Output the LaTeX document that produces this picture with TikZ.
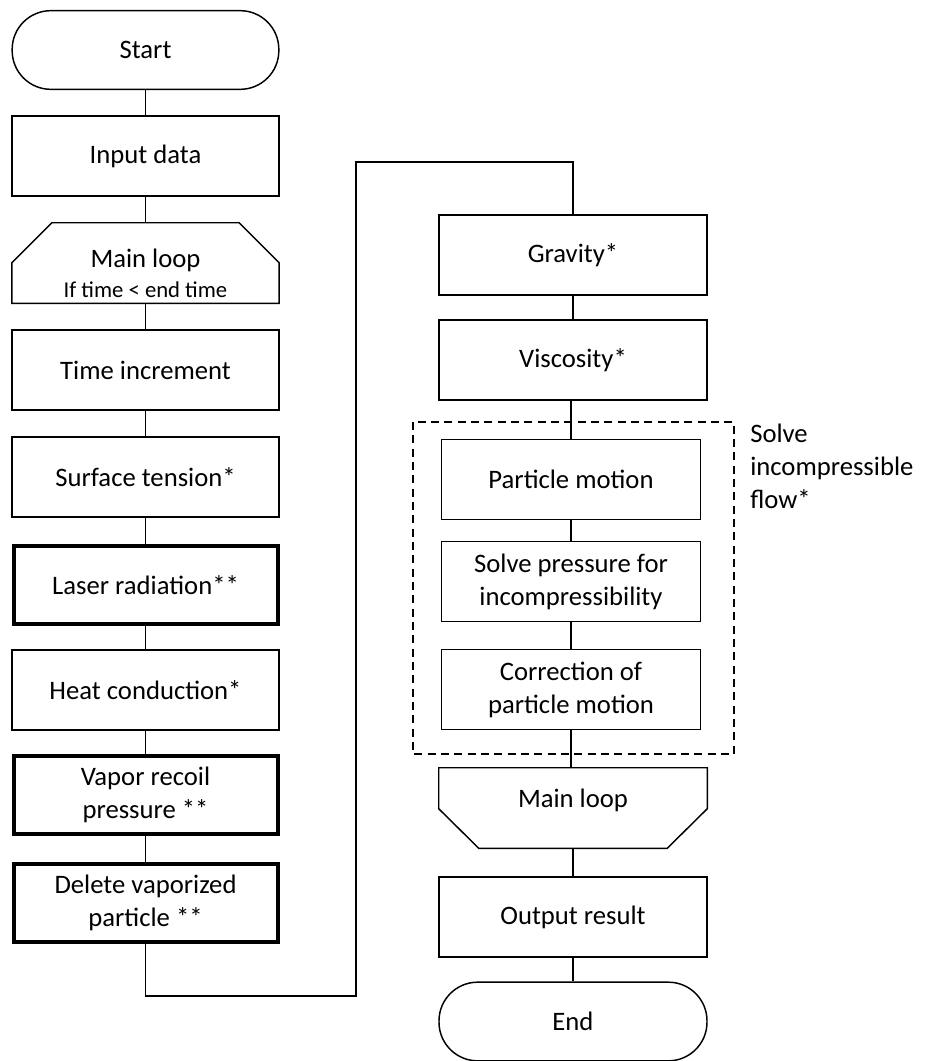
\documentclass[tikz,border=0pt]{standalone}
\usepackage{fontspec}
\setmainfont{Carlito}
\begin{document}
\begin{tikzpicture}[x=0.75pt,y=-0.75pt,
  every node/.style={font=\fontsize{20}{24.75}\selectfont, align=center, inner sep=0pt},
  box/.style={draw, line width=1.1pt, minimum width=200pt, minimum height=60pt},
  boldbox/.style={draw, line width=3pt, minimum width=198pt, minimum height=58pt},
  rbox/.style={draw, line width=1.1pt, minimum width=201pt, minimum height=60pt},
  ibox/.style={draw, line width=1.1pt, minimum width=194pt, minimum height=60pt},
  term/.style={draw, line width=1.1pt, minimum width=200pt, minimum height=59pt, rounded corners=29pt},
  ghost/.style={minimum width=200pt, minimum height=60pt},
  conn/.style={line width=1.1pt}]
\useasboundingbox (0,0) rectangle (941,1061);
% left column
\node[term] (start) at (145.5,50) {Start};
\node[box] (input) at (145.5,156) {Input data};
\node[ghost] (loop1) at (145.5,263) {};
\draw[line width=1.1pt] (loop1.south west) -- ([yshift=-30pt]loop1.north west) -- ([xshift=30pt]loop1.north west) -- ([xshift=-30pt]loop1.north east) -- ([yshift=-30pt]loop1.north east) -- (loop1.south east) -- cycle;
\node (loop1t) at (145.5,273) {Main loop\\[-2pt]{\fontsize{17}{18}\selectfont If time {<} end time}};
\node[box] (time) at (145.5,370) {Time increment};
\node[box] (surf) at (145.5,477) {Surface tension*};
\node[boldbox] (laser) at (145.5,585) {Laser radiation**};
\node[box] (heat) at (145.5,690) {Heat conduction*};
\node[boldbox] (vapor) at (145.5,795) {Vapor recoil\\pressure **};
\node[boldbox] (del) at (145.5,903) {Delete vaporized\\particle **};
% right column
\node[rbox] (grav) at (573,255) {Gravity*};
\node[rbox] (visc) at (573,360) {Viscosity*};
\node[ibox] (pm) at (571,479.5) {Particle motion};
\node[ibox] (sp) at (571,581.5) {Solve pressure for\\incompressibility};
\node[ibox] (cor) at (571,689.5) {Correction of\\particle motion};
\node[ghost, minimum width=201pt] (loop2) at (573,808) {};
\draw[line width=1.1pt] (loop2.north west) -- ([yshift=-30.75pt]loop2.north west) -- ([xshift=30pt]loop2.south west) -- ([xshift=-30pt]loop2.south east) -- ([yshift=-30.75pt]loop2.north east) -- (loop2.north east) -- cycle;
\node (loop2t) at (573,800) {Main loop};
\node[rbox] (out) at (573,917) {Output result};
\node[term, minimum width=201pt] (endn) at (573,1021.5) {End};
% dashed group
\draw[dashed, line width=1.1pt, dash pattern=on 6pt off 4pt] (413,422) rectangle (734,754);
\node[align=left, anchor=north west] (lbl) at (750,424) {Solve\\incompressible\\flow*};
% connectors
\draw[conn] (start) -- (input);
\draw[conn] (input) -- (loop1.north);
\draw[conn] (loop1.south) -- (time);
\draw[conn] (time) -- (surf);
\draw[conn] (surf) -- (laser);
\draw[conn] (laser) -- (heat);
\draw[conn] (heat) -- (vapor);
\draw[conn] (vapor) -- (del);
\coordinate (t1) at (356,996);
\coordinate (t2) at (356,162);
\draw[conn] (del.south) |- (t1) -- (t2) -| (grav.north);
\draw[conn] (grav) -- (visc);
\draw[conn] (pm.north |- visc.south) -- (pm.north);
\draw[conn] (pm) -- (sp);
\draw[conn] (sp) -- (cor);
\draw[conn] (cor.south) -- (cor.south |- loop2.north);
\draw[conn] (loop2.south) -- (out);
\draw[conn] (out) -- (endn);
\end{tikzpicture}
\end{document}
